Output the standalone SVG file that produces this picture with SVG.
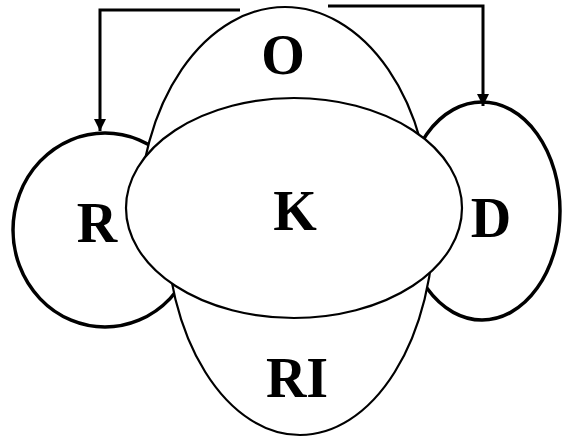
<svg xmlns="http://www.w3.org/2000/svg" width="564" height="438" viewBox="0 0 564 438">
<style>
.thick{fill:#fff;stroke:#000;stroke-width:3.5}
.thin{fill:#fff;stroke:#000;stroke-width:2.2}
.lbl{font-family:"Liberation Serif","Times New Roman",serif;font-weight:bold;font-size:56px;text-anchor:middle;fill:#000}
.conn{fill:none;stroke:#000;stroke-width:3}
</style>
<defs>
<clipPath id="top"><rect x="0" y="0" width="564" height="208"/></clipPath>
<clipPath id="bot"><rect x="0" y="208" width="564" height="230"/></clipPath>
<marker id="arr" viewBox="0 0 10 10" refX="10" refY="5" markerWidth="4" markerHeight="4" orient="auto" markerUnits="strokeWidth">
<path d="M0,0 L10,5 L0,10 Z" fill="#000"/>
</marker>
</defs>
<rect width="564" height="438" fill="#fff"/>
<g id="R">
<ellipse class="thick" cx="105" cy="230" rx="92" ry="97"/>
</g>
<g id="D">
<ellipse class="thick" cx="482" cy="211" rx="78" ry="109"/>
</g>
<g id="O">
<ellipse class="thin" cx="285" cy="220" rx="146" ry="213" clip-path="url(#top)"/>
</g>
<g id="RI">
<ellipse class="thin" cx="300" cy="220" rx="134" ry="215" clip-path="url(#bot)"/>
</g>
<g id="K">
<ellipse class="thin" cx="294" cy="208" rx="168" ry="110"/>
</g>
<g id="connectors">
<path class="conn" d="M240,10 H100 V131" marker-end="url(#arr)"/>
<path class="conn" d="M328,6 H483 V106" marker-end="url(#arr)"/>
</g>
<g id="labels">
<text class="lbl" x="283" y="74">O</text>
<text class="lbl" x="295" y="230">K</text>
<text class="lbl" x="297" y="397">RI</text>
<text class="lbl" x="97" y="242">R</text>
<text class="lbl" x="491" y="237">D</text>
</g>
</svg>
